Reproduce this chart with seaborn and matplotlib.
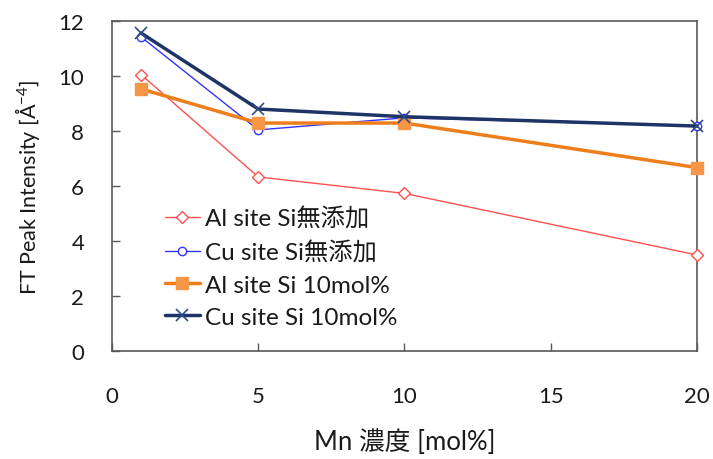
import matplotlib
matplotlib.use("Agg")
import matplotlib.pyplot as plt
import seaborn as sns
import pandas as pd

mn = [1, 5, 10, 20]
al_none = [10.05, 6.33, 5.73, 3.49]
cu_none = [11.42, 8.04, 8.48, 8.18]
al_10 = [9.53, 8.29, 8.29, 6.67]
cu_10 = [11.56, 8.80, 8.52, 8.18]
labels = ["Al site Si無添加", "Cu site Si無添加", "Al site Si 10mol%", "Cu site Si 10mol%"]

sns.set_theme(style="white")
plt.rcParams['font.family'] = ['Lato', 'Noto Sans CJK JP', 'DejaVu Sans']
plt.rcParams['mathtext.default'] = 'regular'

rows = []
for lab, vals in zip(labels, [al_none, cu_none, al_10, cu_10]):
    for x, y in zip(mn, vals):
        rows.append({"Mn": x, "val": y, "series": lab})
df = pd.DataFrame(rows)

fig = plt.figure(figsize=(7.13, 4.60), dpi=100)
ax = fig.add_axes([0.157, 0.235, 0.8206, 0.717])

styles = {
    labels[0]: dict(color="#FF5050", lw=1.0, marker="D", ms=6, mfc="white", mec="#FF5050", mew=1.0),
    labels[1]: dict(color="#3333FF", lw=1.0, marker="o", ms=6, mfc="white", mec="#3333FF", mew=1.0),
    labels[2]: dict(color="#EE7E1A", lw=2.5, marker="s", ms=8, mfc="#F79646", mec="#F79646", mew=1.0),
    labels[3]: dict(color="#1F3466", lw=2.5, marker="x", ms=9, mfc="none", mec="#2F4A8A", mew=1.2),
}

for lab in labels:
    sub = df[df.series == lab]
    st = styles[lab]
    sns.lineplot(data=sub, x="Mn", y="val", ax=ax, label=lab, color=st["color"],
                 linewidth=st["lw"], marker=st["marker"], markersize=st["ms"],
                 markerfacecolor=st["mfc"], markeredgecolor=st["mec"], markeredgewidth=st["mew"],
                 clip_on=False, zorder=3)

ax.set_xlim(0, 20)
ax.set_ylim(0, 12)
ax.set_xticks([0, 5, 10, 15, 20])
ax.set_yticks([0, 2, 4, 6, 8, 10, 12])
ax.tick_params(axis='both', labelsize=16, colors="#595959", labelcolor="#1a1a1a",
               length=6, width=1, direction='in', left=True, bottom=True)
ax.tick_params(axis='y', pad=20)
ax.tick_params(axis='x', pad=25)
for s in ax.spines.values():
    s.set_color("#595959")
    s.set_linewidth(1.2)

ax.set_xlabel("Mn 濃度 [mol%]", fontsize=18.5, color="#1a1a1a", labelpad=16)
ax.set_ylabel("FT Peak Intensity [Å$^{-4}$]", fontsize=15.5, color="#1a1a1a", labelpad=12)

leg = ax.legend(loc="lower left", bbox_to_anchor=(0.09, 0.07), frameon=False, fontsize=17.5,
                handlelength=1.45, handletextpad=0.2, labelspacing=0.45, borderaxespad=0,
                borderpad=0)
for t in leg.get_texts():
    t.set_color("#1a1a1a")

fig.savefig("out.png", dpi=100)
